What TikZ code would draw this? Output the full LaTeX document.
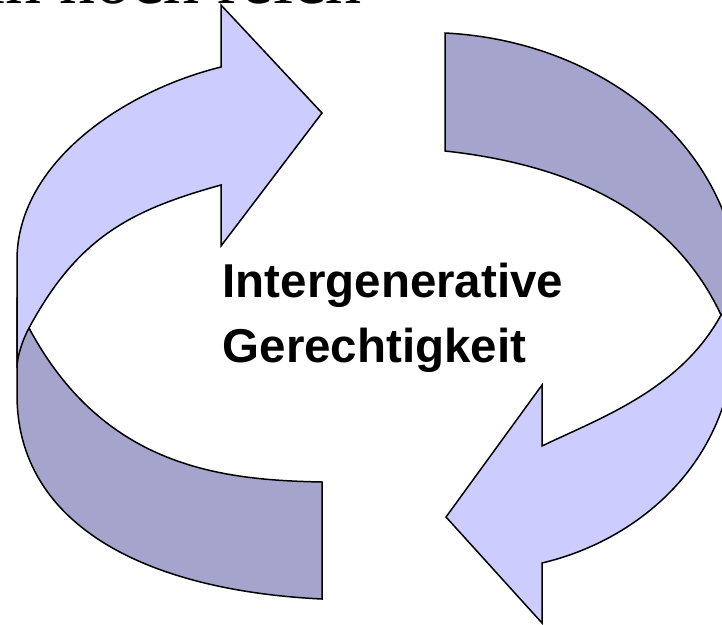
\documentclass[tikz,border=0pt]{standalone}
\usepackage{fontspec}
\setmainfont{Liberation Sans}
\newfontfamily\serifface{Liberation Serif}
\definecolor{lightband}{RGB}{204,204,255}
\definecolor{darkband}{RGB}{164,164,204}
\begin{document}
\begin{tikzpicture}[x=1pt,y=-1pt,
  band/.style={draw=black, line width=1.5pt, line join=miter},
  lightpart/.style={band, fill=lightband},
  darkpart/.style={band, fill=darkband},
  label/.style={anchor=base west, inner sep=0pt, font=\bfseries\fontsize{47.5}{47.5}\selectfont},
  toptext/.style={anchor=base east, inner sep=0pt, font=\serifface\fontsize{72}{72}\selectfont}]
\clip (0,0) rectangle (722,624);

% left band: dark back side (bottom)
\path[darkpart] (29,328) -- (17,300) -- (17,395)
  .. controls (17,520) and (137,590) .. (322,599)
  -- (322,482)
  .. controls (222,480) and (104,468) .. (29,328)
  -- cycle;
% left band: light front side with arrow head
\path[lightpart] (221,67)
  .. controls (120,92) and (17,165) .. (17,260)
  -- (17,368)
  .. controls (17,355) and (24,337) .. (29,328)
  .. controls (78,237) and (131,210) .. (221,185)
  -- (221,246) -- (322,113) -- (221,5) -- cycle;

% right band: dark back side (top)
\path[darkpart] (445,33)
  .. controls (605,41) and (740,150) .. (740,300)
  -- (721,315)
  .. controls (668.5,202.5) and (555,163) .. (445,151)
  -- cycle;
% right band: light front side with arrow head
\path[lightpart] (721,315)
  .. controls (680,390) and (600,418) .. (542,446)
  -- (542,385) -- (446,517) -- (542,623) -- (542,563)
  .. controls (640,540) and (735,460) .. (735,330)
  -- (750,310) -- cycle;

\node[label] (line1) at (222.5,297) {Intergenerative};
\node[label] (line2) at (222.5,362) {Gerechtigkeit};
\node[toptext] (title) at (362,3.5) {in noch reich};
\end{tikzpicture}
\end{document}
